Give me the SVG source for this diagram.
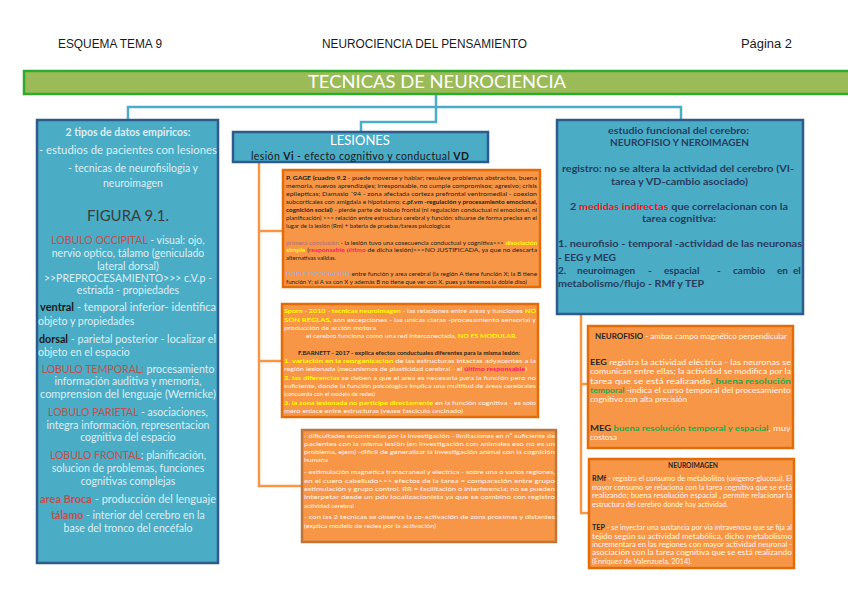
<svg xmlns="http://www.w3.org/2000/svg" width="848" height="599" viewBox="0 0 848 599">
<style>
.hdr{font-family:"Liberation Sans",Arial,sans-serif;font-size:12px;fill:#1a1a1a}
.t{font-family:Lato,"Liberation Sans",sans-serif}
.blue{fill:#4BACC6;stroke:#2E5A8C;stroke-width:2.5}
.org{fill:#F79646;stroke:#E36C09;stroke-width:2.5}
.org3{fill:#F79646;stroke:#C0763A;stroke-width:2.5}
.cb{fill:none;stroke:#4BACC6;stroke-width:2.5}
.co{fill:none;stroke:#F79646;stroke-width:2.5}
.lt{font-size:10.5px;fill:#DDEFF5;text-anchor:middle}
.ll{font-size:10.5px;fill:#DDEFF5}
.red{fill:#C0504D}
.dk{fill:#1a1a1a;font-weight:bold}
.rb{font-size:10px;fill:#263D5E;font-weight:bold}
.s1{font-size:6.2px;fill:#222}
.s2{font-size:6.2px;fill:#FFF6EC}
.s3{font-size:7px;fill:#FFF6EC}
.y{fill:#FFFF00;font-weight:bold}
.m{fill:#FF1A6A;font-weight:bold}
.g{fill:#1FA84A;font-weight:bold}
.b{font-weight:bold;fill:#262626}
</style>

<g id="header">
<text class="hdr" x="58" y="48" textLength="104" lengthAdjust="spacingAndGlyphs">ESQUEMA TEMA 9</text>
<text class="hdr" x="322" y="48" textLength="205" lengthAdjust="spacingAndGlyphs">NEUROCIENCIA DEL PENSAMIENTO</text>
<text class="hdr" x="741" y="48" textLength="51" lengthAdjust="spacingAndGlyphs">Página 2</text>
</g>

<g id="title">
<rect x="24" y="71" width="826" height="23" fill="#9BBB59" stroke="#2EAA2E" stroke-width="2.5"/>
<text class="t" x="308" y="88" font-size="18" fill="#FFFFFF" textLength="258" lengthAdjust="spacingAndGlyphs">TECNICAS DE NEUROCIENCIA</text>
</g>

<g id="connectors">
<path class="cb" d="M436 95 V122 H361 V132"/>
<path class="cb" d="M128 120 V107 H681 V120"/>
<path class="co" d="M259 163 V486 H301"/>
<path class="co" d="M259 231 H283"/>
<path class="co" d="M259 361 H282"/>
<path class="co" d="M581 315 V513 H589"/>
<path class="co" d="M581 384 H588"/>
</g>

<g id="empiricos" class="t">
<rect class="blue" x="37" y="120" width="181" height="443"/>
<text class="lt" x="128" y="136" font-weight="bold">2 tipos de datos empiricos:</text>
<text class="lt" x="128" y="154" textLength="178" lengthAdjust="spacingAndGlyphs">- estudios de pacientes con lesiones</text>
<text class="lt" x="133" y="172">- tecnicas de neurofisilogia y</text>
<text class="lt" x="133" y="187">neuroimagen</text>
<text class="t" x="128" y="221" font-size="15" fill="#3C3C3C" text-anchor="middle">FIGURA 9.1.</text>
<text class="lt" x="128" y="244"><tspan class="red">LOBULO OCCIPITAL</tspan> - visual: ojo,</text>
<text class="lt" x="128" y="257">nervio optico, tálamo (geniculado</text>
<text class="lt" x="128" y="270">lateral dorsal)</text>
<text class="lt" x="128" y="282">&gt;&gt;PREPROCESAMIENTO&gt;&gt;&gt; c.V.p -</text>
<text class="lt" x="128" y="294">estriada - propiedades</text>
<text class="ll" x="40" y="311" textLength="176" lengthAdjust="spacingAndGlyphs"><tspan class="dk">ventral</tspan> - temporal inferior- identifica</text>
<text class="ll" x="38" y="325">objeto y propiedades</text>
<text class="ll" x="39" y="343" textLength="177" lengthAdjust="spacingAndGlyphs"><tspan class="dk">dorsal</tspan> - parietal posterior - localizar el</text>
<text class="ll" x="38" y="356">objeto en el espacio</text>
<text class="lt" x="128" y="373"><tspan class="red">LOBULO TEMPORAL:</tspan> procesamiento</text>
<text class="lt" x="128" y="385">información auditiva y memoria,</text>
<text class="lt" x="128" y="398" textLength="176" lengthAdjust="spacingAndGlyphs">comprension del lenguaje (Wernicke)</text>
<text class="lt" x="128" y="416"><tspan class="red">LOBULO PARIETAL</tspan> - asociaciones,</text>
<text class="lt" x="128" y="429">integra información, representacion</text>
<text class="lt" x="128" y="441">cognitiva del espacio</text>
<text class="lt" x="128" y="459"><tspan class="red">LOBULO FRONTAL</tspan>: planificación,</text>
<text class="lt" x="128" y="472">solucion de problemas, funciones</text>
<text class="lt" x="128" y="485">cognitivas complejas</text>
<text class="lt" x="128" y="503" textLength="176" lengthAdjust="spacingAndGlyphs"><tspan class="red" font-weight="bold">area Broca</tspan> - producción del lenguaje</text>
<text class="lt" x="128" y="519"><tspan class="red" font-weight="bold">tálamo</tspan> - interior del cerebro en la</text>
<text class="lt" x="128" y="532">base del tronco del encéfalo</text>
</g>

<g id="lesiones" class="t">
<rect class="blue" x="233" y="132" width="255" height="30"/>
<text x="360" y="145" font-size="13" fill="#FFFFFF" text-anchor="middle">LESIONES</text>
<text x="251" y="159.5" font-size="10.5" fill="#1a1a1a" textLength="218" lengthAdjust="spacing">lesión <tspan font-weight="bold">Vi</tspan>  -  efecto cognitivo y conductual <tspan font-weight="bold">VD</tspan></text>
</g>

<g id="gage" class="t">
<rect class="org" x="283" y="170" width="257" height="117"/>
<g class="s1">
<text x="286" y="179.5" textLength="251" lengthAdjust="spacingAndGlyphs"><tspan font-weight="bold">P. GAGE (cuadro 9.2</tspan> - puede moverse y hablar; resuleve problemas abstractos, buena</text>
<text x="286" y="187.5" textLength="251" lengthAdjust="spacingAndGlyphs">memoria, nuevos aprendizajes; irresponsable, no cumple compromisos; agresivo; crisis</text>
<text x="286" y="195.5" textLength="251" lengthAdjust="spacingAndGlyphs">epilepticas; Damasio ´94 - zona afectada corteza prefrontal ventromedial - coexion</text>
<text x="286" y="203.5" textLength="251" lengthAdjust="spacingAndGlyphs">subcorticales  con amigdala e hipotalamo; <tspan font-weight="bold">c.pf.vm -regulación y procesamiento emocional,</tspan></text>
<text x="286" y="211.5" textLength="251" lengthAdjust="spacingAndGlyphs"><tspan font-weight="bold">cognición social)</tspan> - pierde parte de lobulo frontal (ni regulación conductual ni emocional, ni</text>
<text x="286" y="219.5" textLength="251" lengthAdjust="spacingAndGlyphs">planificación) &gt;&gt;&gt; relación entre estructura cerebral y función: situarse de forma precisa en el</text>
<text x="286" y="227.5" textLength="164" lengthAdjust="spacingAndGlyphs">lugar de la lesión (Rm) + bateria de pruebas/tareas psicologicas</text>
<text x="286" y="244.5" textLength="251" lengthAdjust="spacingAndGlyphs"><tspan fill="#A8707F">primera conclusión</tspan> - la lesión tuvo una cosecuencia conductual y cognitiva&gt;&gt;&gt; <tspan class="y">disociación</tspan></text>
<text x="286" y="252" textLength="251" lengthAdjust="spacingAndGlyphs"><tspan class="y">simple</tspan> (<tspan class="m">responsable último</tspan> de dicha lesión)&gt;&gt;&gt;NO JUSTIFICADA, ya que no descarta</text>
<text x="286" y="259.5" textLength="50" lengthAdjust="spacingAndGlyphs">alternativas validas.</text>
<text x="286" y="276" textLength="251" lengthAdjust="spacingAndGlyphs"><tspan fill="#8DB4E2">DOBLE DISOCIACIÓN</tspan> entre función y area cerebral (la región A tiene función X; la B tiene</text>
<text x="286" y="284" textLength="241" lengthAdjust="spacingAndGlyphs">función Y; si A va con X y además B no tiene que ver con X, pues ya tenemos la doble diso)</text>
</g>
</g>

<g id="sporn" class="t">
<rect class="org" x="282" y="304" width="256" height="113"/>
<g class="s2">
<text x="284" y="313" textLength="252" lengthAdjust="spacingAndGlyphs"><tspan class="y">Sporn - 2010 - tecnicas neuroimagen -</tspan> las relaciones entre areas y funciones <tspan class="y">NO</tspan></text>
<text x="284" y="321.5" textLength="252" lengthAdjust="spacingAndGlyphs"><tspan class="y">SON REGLAS,</tspan> son excepciones - las unicas claras -procesamiento sensorial y</text>
<text x="284" y="330" textLength="92" lengthAdjust="spacingAndGlyphs">producción de acción motora</text>
<text x="306" y="338" textLength="211" lengthAdjust="spacingAndGlyphs">el cerebro funciona como una red interconectada, <tspan class="y">NO ES MODULAR.</tspan></text>
<text x="298" y="354.5" textLength="222" lengthAdjust="spacingAndGlyphs" class="b" font-size="5.8">F.BARNETT - 2017 - explica efectos conductuales diferentes para la misma lesión:</text>
<text x="284" y="363" textLength="252" lengthAdjust="spacingAndGlyphs"><tspan class="y">1. variación en la reorganizacion</tspan> de las estructuras intactas adyacentes a la</text>
<text x="284" y="371" textLength="243" lengthAdjust="spacingAndGlyphs">región lesionada (mecanismos de plasticidad cerebral - el <tspan class="m">último responsable</tspan>)</text>
<text x="284" y="379.5" textLength="252" lengthAdjust="spacingAndGlyphs"><tspan class="y">2. las diferencias</tspan> se deben a que el area es necesaria para la función pero no</text>
<text x="284" y="388" textLength="252" lengthAdjust="spacingAndGlyphs">suficiente, donde la función psicologica implica una multitud de áreas cerebrales</text>
<text x="284" y="396" textLength="91" lengthAdjust="spacingAndGlyphs">(concuerda con el modelo de redes)</text>
<text x="284" y="405" textLength="252" lengthAdjust="spacingAndGlyphs"><tspan class="y">3. la zona lesionada no participe directamente</tspan> en la función cognitiva - es solo</text>
<text x="284" y="413" textLength="179" lengthAdjust="spacingAndGlyphs">mero enlace entre estructuras (vease fasciculo uncinado)</text>
</g>
</g>

<g id="dificultades" class="t">
<rect class="org3" x="302" y="430" width="254" height="112"/>
<g class="s2">
<text x="304" y="437.5" textLength="251" lengthAdjust="spacingAndGlyphs">- dificultades encontradas por la investigación - limitaciones en nº suficiente de</text>
<text x="304" y="445.5" textLength="251" lengthAdjust="spacingAndGlyphs">pacientes con la misma lesión (en investigación con animales eso no es un</text>
<text x="304" y="454" textLength="251" lengthAdjust="spacingAndGlyphs">problema, ejem) -dificil de generalizar la investigación animal con la cognición</text>
<text x="304" y="461.5" textLength="24" lengthAdjust="spacingAndGlyphs">humana</text>
<text x="304" y="474" textLength="251" lengthAdjust="spacingAndGlyphs">- estimulación magnetica transcraneal y electrica - sobre una o varios regiones,</text>
<text x="304" y="482.5" textLength="251" lengthAdjust="spacingAndGlyphs">en el cuero cabelludo&gt;&gt;&gt; efectos de la tarea = comparación entre grupo</text>
<text x="304" y="491" textLength="251" lengthAdjust="spacingAndGlyphs">estimulación y grupo control. RR = facilitación o interferencia; no se pueden</text>
<text x="304" y="499" textLength="251" lengthAdjust="spacingAndGlyphs">interpetar desde un pdv localizacionista ya que se combino con registro</text>
<text x="304" y="507.5" textLength="50" lengthAdjust="spacingAndGlyphs">actividad cerebral</text>
<text x="304" y="519" textLength="251" lengthAdjust="spacingAndGlyphs">- con las 2 tecnicas se observa la co-activación de zons proximas y distantes</text>
<text x="304" y="527.5" textLength="132" lengthAdjust="spacingAndGlyphs">(explica modelo de redes por la activación)</text>
</g>
</g>

<g id="funcional" class="t">
<rect class="blue" x="557" y="120" width="246" height="194"/>
<g class="rb">
<text x="608" y="134" textLength="141" lengthAdjust="spacingAndGlyphs">estudio funcional del cerebro:</text>
<text x="610" y="146" textLength="139" lengthAdjust="spacingAndGlyphs">NEUROFISIO Y NEROIMAGEN</text>
<text x="562" y="172" textLength="232" lengthAdjust="spacingAndGlyphs">registro: no se altera la actividad del cerebro (VI-</text>
<text x="611" y="185" textLength="137" lengthAdjust="spacingAndGlyphs">tarea y VD-cambio asociado)</text>
<text x="570" y="210" textLength="218" lengthAdjust="spacingAndGlyphs">2 <tspan fill="#FF1010">medidas indirectas</tspan> que correlacionan con la</text>
<text x="642" y="222" textLength="74" lengthAdjust="spacingAndGlyphs">tarea cognitiva:</text>
<text x="558" y="247" textLength="244" lengthAdjust="spacingAndGlyphs">1. neurofisio - temporal -actividad de las neuronas</text>
<text x="558" y="261" textLength="58" lengthAdjust="spacingAndGlyphs">- EEG y MEG</text>
<text y="274"><tspan x="558">2.</tspan><tspan x="577">neuroimagen</tspan><tspan x="648">-</tspan><tspan x="664">espacial</tspan><tspan x="717">-</tspan><tspan x="733">cambio</tspan><tspan x="777">en</tspan><tspan x="793">el</tspan></text>
<text x="558" y="287" textLength="146" lengthAdjust="spacingAndGlyphs">metabolismo/flujo - RMf y TEP</text>
</g>
</g>

<g id="neurofisio" class="t">
<rect class="org" x="588" y="326" width="205" height="122"/>
<g class="s3">
<text x="595" y="339" textLength="192" lengthAdjust="spacingAndGlyphs"><tspan class="b">NEUROFISIO</tspan> - ambas campo magnético perpendicular</text>
<text x="590" y="365" textLength="201" lengthAdjust="spacingAndGlyphs"><tspan class="b">EEG</tspan> registra la actividad eléctrica - las neuronas se</text>
<text x="590" y="374" textLength="201" lengthAdjust="spacingAndGlyphs">comunican entre ellas; la actividad se modifica por la</text>
<text x="590" y="383.5" textLength="201" lengthAdjust="spacingAndGlyphs">tarea que se está realizando<tspan class="g">, buena resolución</tspan></text>
<text x="590" y="392.5" textLength="201" lengthAdjust="spacingAndGlyphs"><tspan class="g">temporal</tspan> -indica el curso temporal del procesamiento</text>
<text x="590" y="402" textLength="97" lengthAdjust="spacingAndGlyphs">cognitivo con alta precisión</text>
<text x="590" y="430.5" textLength="201" lengthAdjust="spacingAndGlyphs"><tspan class="b">MEG</tspan> <tspan class="g">buena resolución temporal y espacial</tspan>, muy</text>
<text x="590" y="440" textLength="27" lengthAdjust="spacingAndGlyphs">costosa</text>
</g>
</g>

<g id="neuroimagen" class="t">
<rect class="org" x="589" y="459" width="205" height="109"/>
<g class="s3">
<text x="693" y="468" text-anchor="middle" class="b" textLength="50" lengthAdjust="spacingAndGlyphs">NEUROIMAGEN</text>
<text x="592" y="481" textLength="200" lengthAdjust="spacingAndGlyphs"><tspan class="b">RMf</tspan> - registra el consumo de metabolitos (oxigeno-glucosa). El</text>
<text x="592" y="490" textLength="200" lengthAdjust="spacingAndGlyphs">mayor consumo se relaciona con la tarea cognitiva que se está</text>
<text x="592" y="498" textLength="200" lengthAdjust="spacingAndGlyphs">realizando; buena resolución espacial , permite relacionar la</text>
<text x="592" y="506.5" textLength="136" lengthAdjust="spacingAndGlyphs">estructura del cerebro donde hay actividad.</text>
<text x="592" y="530" textLength="200" lengthAdjust="spacingAndGlyphs"><tspan class="b">TEP</tspan> - se inyectar una sustancia por via intravenosa que se fija al</text>
<text x="592" y="538.5" textLength="200" lengthAdjust="spacingAndGlyphs">tejido según su actividad metabólica, dicho metabolismo</text>
<text x="592" y="547" textLength="200" lengthAdjust="spacingAndGlyphs">incrementara en las regiones con mayor actividad neuronal -</text>
<text x="592" y="555" textLength="200" lengthAdjust="spacingAndGlyphs">asociación con la tarea cognitiva que se está realizando</text>
<text x="592" y="563.5" textLength="100" lengthAdjust="spacingAndGlyphs">(Enríquez de Valenzuela, 2014).</text>
</g>
</g>
</svg>
